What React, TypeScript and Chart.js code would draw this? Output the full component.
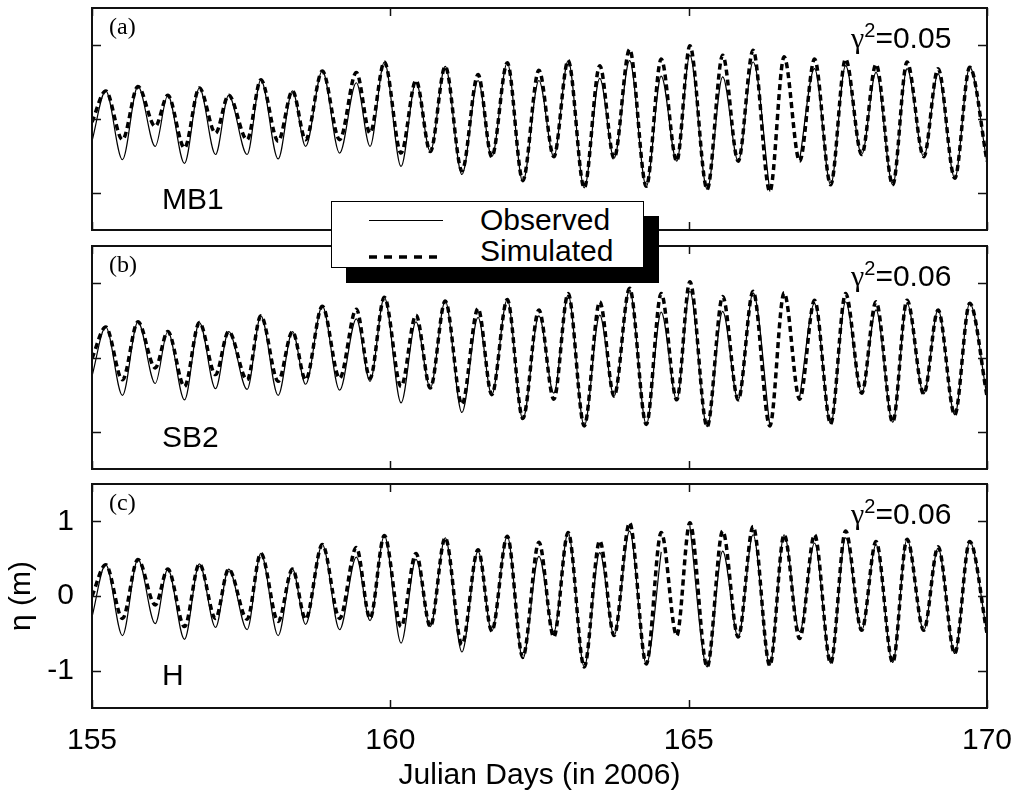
import React, { useEffect, useRef } from "react";
import { Chart, registerables } from "chart.js";

Chart.register(...registerables);

// Times (Julian day 2006) of the start, successive highs/lows, and the end of the record
const times = [
  155.0,
  155.23, 155.51, 155.77, 156.06, 156.27, 156.55, 156.8, 157.07, 157.29, 157.6,
  157.83, 158.12, 158.36, 158.58, 158.86, 159.15, 159.43, 159.66, 159.9, 160.18,
  160.43, 160.67, 160.92, 161.2, 161.47, 161.7, 161.96, 162.22, 162.49, 162.74,
  162.98, 163.25, 163.51, 163.75, 164.01, 164.29, 164.54, 164.8, 165.02, 165.31,
  165.57, 165.83, 166.08, 166.36, 166.6, 166.86, 167.11, 167.38, 167.63, 167.9,
  168.14, 168.42, 168.66, 168.94, 169.18, 169.46, 169.71,
  170.0,
];

// (a) MB1
const obsMB1 = [
  -0.3,
  0.38, -0.55, 0.44, -0.37, 0.32, -0.6, 0.42, -0.48, 0.32, -0.48,
  0.53, -0.54, 0.38, -0.37, 0.65, -0.46, 0.49, -0.37, 0.77, -0.64,
  0.5, -0.44, 0.71, -0.75, 0.52, -0.51, 0.76, -0.85, 0.52, -0.51,
  0.79, -0.93, 0.55, -0.53, 0.79, -0.91, 0.58, -0.57, 0.86, -0.95,
  0.57, -0.57, 0.77, -0.98, null, -0.55, 0.68, -0.89, 0.72, -0.48,
  0.63, -0.89, 0.68, -0.51, 0.61, -0.8, 0.7,
  -0.59,
];
const simMB1 = [
  -0.04,
  0.38, -0.28, 0.44, -0.1, 0.32, -0.39, 0.42, -0.19, 0.32, -0.28,
  0.53, -0.3, 0.38, -0.28, 0.65, -0.28, 0.63, -0.19, 0.77, -0.46,
  0.52, -0.44, 0.71, -0.7, 0.6, -0.51, 0.76, -0.83, 0.66, -0.51,
  0.79, -0.93, 0.72, -0.53, 0.94, -0.91, 0.81, -0.57, 0.99, -0.95,
  0.86, -0.57, 0.93, -0.98, 0.84, -0.57, 0.81, -0.89, 0.81, -0.48,
  0.74, -0.89, 0.77, -0.51, 0.68, -0.8, 0.7,
  -0.57,
];

// (b) SB2
const obsSB2 = [
  -0.25,
  0.41, -0.51, 0.48, -0.35, 0.35, -0.57, 0.47, -0.42, 0.35, -0.43,
  0.56, -0.51, 0.35, -0.36, 0.69, -0.44, 0.52, -0.32, 0.81, -0.61,
  0.48, -0.41, 0.76, -0.74, 0.54, -0.5, 0.78, -0.83, 0.56, -0.48,
  0.84, -0.92, 0.57, -0.52, 0.91, -0.9, 0.61, -0.57, 0.89, -0.93,
  0.62, -0.57, 0.87, -0.92, null, -0.54, 0.73, -0.89, 0.75, -0.48,
  0.64, -0.87, 0.73, -0.49, 0.64, -0.77, 0.73,
  -0.52,
];
const simSB2 = [
  -0.01,
  0.41, -0.3, 0.48, -0.14, 0.35, -0.39, 0.47, -0.23, 0.35, -0.3,
  0.56, -0.32, 0.35, -0.3, 0.69, -0.28, 0.65, -0.28, 0.81, -0.39,
  0.57, -0.41, 0.76, -0.63, 0.66, -0.5, 0.78, -0.82, 0.64, -0.56,
  0.86, -0.92, 0.75, -0.52, 0.93, -0.9, 0.86, -0.57, 1.02, -0.93,
  0.82, -0.57, 0.89, -0.92, 0.87, -0.56, 0.77, -0.89, 0.86, -0.48,
  0.75, -0.87, 0.77, -0.49, 0.64, -0.77, 0.73,
  -0.52,
];

// (c) H
const obsH = [
  -0.28,
  0.42, -0.53, 0.49, -0.37, 0.36, -0.58, 0.43, -0.42, 0.36, -0.45,
  0.57, -0.53, 0.36, -0.38, 0.69, -0.45, 0.52, -0.33, 0.81, -0.63,
  0.49, -0.41, 0.78, -0.75, 0.6, -0.47, 0.8, -0.84, 0.53, -0.48,
  0.85, -0.95, 0.58, -0.53, 0.87, -0.91, 0.59, null, 0.94, -0.95,
  0.6, -0.55, 0.82, -0.93, 0.82, -0.48, 0.71, -0.9, 0.78, -0.46,
  0.69, -0.89, 0.76, -0.46, 0.64, -0.77, 0.73,
  -0.5,
];
const simH = [
  0.0,
  0.42, -0.3, 0.49, -0.12, 0.36, -0.41, 0.43, -0.3, 0.36, -0.31,
  0.57, -0.34, 0.36, -0.31, 0.69, -0.3, 0.65, -0.3, 0.81, -0.41,
  0.57, -0.41, 0.78, -0.65, 0.62, -0.47, 0.8, -0.82, 0.72, -0.55,
  0.85, -0.95, 0.74, -0.53, 0.98, -0.91, 0.85, -0.53, 0.98, -0.95,
  0.87, -0.55, 0.93, -0.93, 0.82, -0.57, 0.82, -0.9, 0.87, -0.46,
  0.73, -0.89, 0.76, -0.46, 0.66, -0.77, 0.73,
  -0.5,
];

const xTicks = [155, 160, 165, 170];
const yTicks = [-1, 0, 1];
const xRange = [155, 170];
const yRange = [-1.5, 1.5];

const panelTags = ["(a)", "(b)", "(c)"];
const stations = ["MB1", "SB2", "H"];
const gammaValues = ["0.05", "0.06", "0.06"];
const seriesNames = ["Observed", "Simulated"];
const xTitle = "Julian Days (in 2006)";
const yTitle = "η (m)";

const SANS = "'Liberation Sans', Arial, Helvetica, sans-serif";
const SERIF = "'Liberation Serif', 'Times New Roman', serif";

const framePlugin = {
  id: "frameTicks",
  afterDatasetsDraw(chart: any) {
    const { ctx, chartArea: a, scales } = chart;
    const xs = scales.x;
    const ys = scales.y;
    ctx.save();
    ctx.strokeStyle = "#111";
    ctx.lineWidth = 1.5;
    ctx.beginPath();
    for (const v of xTicks) {
      const px = Math.round(xs.getPixelForValue(v)) + 0.5;
      ctx.moveTo(px, a.top);
      ctx.lineTo(px, a.top + 8);
      ctx.moveTo(px, a.bottom);
      ctx.lineTo(px, a.bottom - 8);
    }
    for (const v of yTicks) {
      const py = Math.round(ys.getPixelForValue(v)) + 0.5;
      ctx.moveTo(a.left, py);
      ctx.lineTo(a.left + 9, py);
      ctx.moveTo(a.right, py);
      ctx.lineTo(a.right - 9, py);
    }
    ctx.stroke();
    ctx.lineWidth = 2;
    ctx.strokeRect(a.left, a.top, a.right - a.left, a.bottom - a.top);
    ctx.restore();
  },
};

function makePanel(canvas: HTMLCanvasElement, obs: (number | null)[], sim: number[], withAxes: boolean, pad: any) {
  const toPts = (ys: (number | null)[]) => times.map((t, i) => ({ x: t, y: ys[i] }));
  const noPad = (s: any) => {
    s.paddingTop = 0;
    s.paddingBottom = 0;
    s.paddingLeft = 0;
    s.paddingRight = 0;
  };
  return new Chart(canvas, {
    type: "line",
    data: {
      datasets: [
        {
          label: seriesNames[1],
          data: toPts(sim),
          borderColor: "#000",
          borderWidth: 3.5,
          borderDash: [6, 4],
          pointRadius: 0,
          cubicInterpolationMode: "monotone",
          spanGaps: false,
          fill: false,
        },
        {
          label: seriesNames[0],
          data: toPts(obs),
          borderColor: "#000",
          borderWidth: 1.2,
          pointRadius: 0,
          cubicInterpolationMode: "monotone",
          spanGaps: false,
          fill: false,
        },
      ],
    },
    options: {
      responsive: false,
      animation: false,
      events: [],
      layout: { padding: pad },
      plugins: { legend: { display: false }, tooltip: { enabled: false } },
      scales: {
        x: {
          type: "linear",
          min: xRange[0],
          max: xRange[1],
          display: withAxes,
          grid: { display: false, drawTicks: false },
          border: { display: false },
          afterBuildTicks: (s: any) => {
            s.ticks = xTicks.map((v) => ({ value: v }));
          },
          afterFit: (s: any) => {
            noPad(s);
            if (withAxes) s.height = 90;
          },
          ticks: {
            color: "#000",
            padding: 15,
            maxRotation: 0,
            font: { family: SANS, size: 30 },
            callback: (v: any) => String(v),
          },
          title: {
            display: withAxes,
            text: xTitle,
            color: "#000",
            font: { family: SANS, size: 30 },
            padding: { top: 0, bottom: 4 },
          },
        },
        y: {
          type: "linear",
          min: yRange[0],
          max: yRange[1],
          display: withAxes,
          grid: { display: false, drawTicks: false },
          border: { display: false },
          afterBuildTicks: (s: any) => {
            s.ticks = yTicks.map((v) => ({ value: v }));
          },
          afterFit: (s: any) => {
            noPad(s);
            if (withAxes) s.width = 92;
          },
          ticks: {
            color: "#000",
            padding: 18,
            font: { family: SANS, size: 30 },
            callback: (v: any) => String(v),
          },
          title: {
            display: withAxes,
            text: yTitle,
            color: "#000",
            font: { family: SANS, size: 30 },
            padding: { top: 4, bottom: 0 },
          },
        },
      },
    },
    plugins: [framePlugin],
  } as any);
}

function PanelText({ top, idx }: { top: number; idx: number }) {
  return (
    <>
      <div
        style={{
          position: "absolute",
          left: 109,
          top: top + 14,
          font: `24px ${SERIF}`,
          lineHeight: "24px",
          color: "#000",
        }}
      >
        {panelTags[idx]}
      </div>
      <div
        style={{
          position: "absolute",
          left: 162,
          top: top + 184,
          font: `30px ${SANS}`,
          lineHeight: "30px",
          color: "#000",
        }}
      >
        {stations[idx]}
      </div>
      <div
        style={{
          position: "absolute",
          left: 851,
          top: top + 23,
          font: `30px ${SANS}`,
          lineHeight: "30px",
          color: "#000",
          whiteSpace: "nowrap",
        }}
      >
        <span style={{ fontFamily: SERIF }}>γ</span>
        <sup style={{ fontSize: 20, verticalAlign: "11px", lineHeight: 0 }}>2</sup>=
        {gammaValues[idx]}
      </div>
    </>
  );
}

export default function App() {
  const refA = useRef<HTMLCanvasElement>(null);
  const refB = useRef<HTMLCanvasElement>(null);
  const refC = useRef<HTMLCanvasElement>(null);

  useEffect(() => {
    const charts = [
      makePanel(refA.current!, obsMB1, simMB1, false, { left: 92, right: 30, top: 8, bottom: 10 }),
      makePanel(refB.current!, obsSB2, simSB2, false, { left: 92, right: 30, top: 8, bottom: 9 }),
      makePanel(refC.current!, obsH, simH, true, { left: 0, right: 30, top: 8, bottom: 0 }),
    ];
    return () => charts.forEach((c) => c.destroy());
  }, []);

  return (
    <div
      style={{
        position: "fixed",
        left: 0,
        top: 0,
        width: 1017,
        height: 798,
        background: "#fff",
        overflow: "hidden",
      }}
    >
      <canvas ref={refA} width={1017} height={240} style={{ position: "absolute", left: 0, top: 0 }} />
      <canvas ref={refB} width={1017} height={240} style={{ position: "absolute", left: 0, top: 238 }} />
      <canvas ref={refC} width={1017} height={322} style={{ position: "absolute", left: 0, top: 476 }} />

      <PanelText top={0} idx={0} />
      <PanelText top={238} idx={1} />
      <PanelText top={476} idx={2} />

      {/* legend */}
      <div style={{ position: "absolute", left: 346, top: 216, width: 313, height: 67, background: "#000" }} />
      <div
        style={{
          position: "absolute",
          left: 331,
          top: 201,
          width: 311,
          height: 65,
          background: "#fff",
          border: "1px solid #000",
        }}
      >
        <svg width={311} height={65} style={{ position: "absolute", left: 0, top: 0 }}>
          <line x1={37} y1={18.5} x2={111} y2={18.5} stroke="#000" strokeWidth={1.2} />
          <line x1={37} y1={55} x2={111} y2={55} stroke="#000" strokeWidth={3.5} strokeDasharray="8 7" />
        </svg>
        <div
          style={{
            position: "absolute",
            left: 148,
            top: 3,
            font: `30px ${SANS}`,
            lineHeight: "30px",
            color: "#000",
          }}
        >
          {seriesNames[0]}
        </div>
        <div
          style={{
            position: "absolute",
            left: 148,
            top: 34,
            font: `30px ${SANS}`,
            lineHeight: "30px",
            color: "#000",
          }}
        >
          {seriesNames[1]}
        </div>
      </div>
    </div>
  );
}
